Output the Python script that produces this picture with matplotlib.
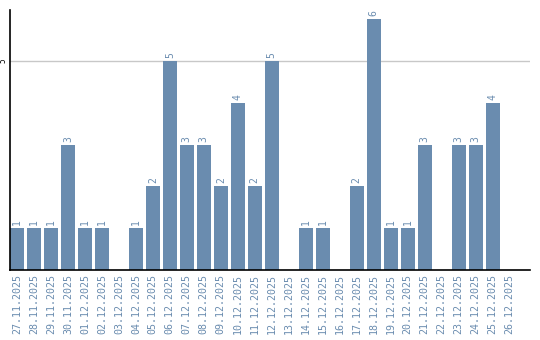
import numpy as np
import matplotlib.pyplot as plt

dates = ["27.11.2025", "28.11.2025", "29.11.2025", "30.11.2025", "01.12.2025",
         "02.12.2025", "03.12.2025", "04.12.2025", "05.12.2025", "06.12.2025",
         "07.12.2025", "08.12.2025", "09.12.2025", "10.12.2025", "11.12.2025",
         "12.12.2025", "13.12.2025", "14.12.2025", "15.12.2025", "16.12.2025",
         "17.12.2025", "18.12.2025", "19.12.2025", "20.12.2025", "21.12.2025",
         "22.12.2025", "23.12.2025", "24.12.2025", "25.12.2025", "26.12.2025"]
counts = [1, 1, 1, 3, 1, 1, 0, 1, 2, 5, 3, 3, 2, 4, 2, 5, 0, 1, 1, 0,
          2, 6, 1, 1, 3, 0, 3, 3, 4, 0]

bar_color = "#6a8caf"
mono = "DejaVu Sans Mono"

fig = plt.figure(figsize=(5.4, 3.4), dpi=100)
ax = fig.add_axes([10 / 540, 70 / 340, 520 / 540, 260 / 340])

x = np.arange(len(dates))
ax.bar(x, counts, width=0.82, color=bar_color, zorder=2)

for xi, v in zip(x, counts):
    if v > 0:
        ax.text(xi, v + 0.07, str(v), rotation=90, ha="center", va="bottom",
                fontsize=7, color=bar_color, family=mono)

ax.set_xlim(-0.41, 30.2)
ax.set_ylim(0, 6.22)
ax.set_xticks(x)
ax.set_xticklabels(dates, rotation=90, fontsize=7.2, color=bar_color, family=mono)
ax.set_yticks([5])
ax.set_yticklabels(["5"], rotation=90, fontsize=5.5, family=mono, va="center")
ax.tick_params(axis="x", length=0, pad=3)
ax.tick_params(axis="y", length=0, pad=1.5)
ax.yaxis.grid(True, color="#c8c8c8", linewidth=1, zorder=0)
ax.set_axisbelow(True)

for side in ["top", "right"]:
    ax.spines[side].set_visible(False)
ax.spines["left"].set_linewidth(1.2)
ax.spines["bottom"].set_linewidth(1.2)

fig.savefig("out.png", dpi=100)
